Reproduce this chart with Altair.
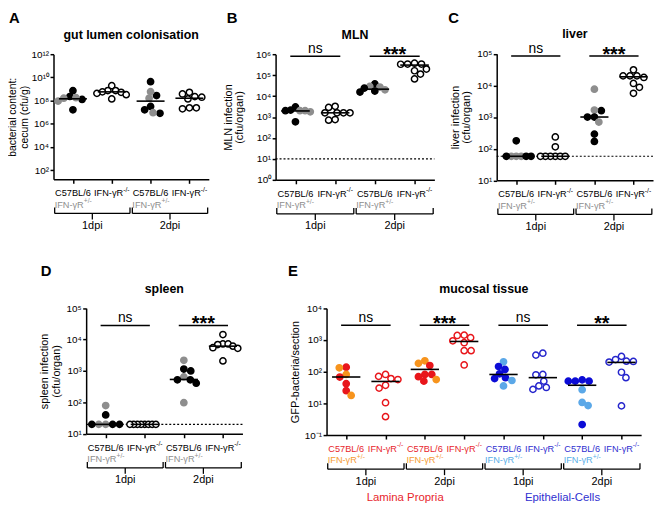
import altair as alt
import pandas as pd

FONT = "Liberation Sans"
W, H = 646, 480

# ---------------- values (log10 units) ----------------
A_VALUES = [
    [8.85, 8.35, 8.10, 7.20, 7.95, 8.20, 8.25],
    [9.28, 8.86, 8.86, 8.71, 8.51, 8.14, 8.75, 8.62],
    [9.63, 8.43, 8.77, 8.20, 7.49, 7.20, 6.90, 6.95],
    [8.57, 8.71, 8.29, 8.34, 8.14, 7.37, 7.29, 7.37],
]
A_STRAINS = [
    ["wt", "wt", "wt", "wt", "het", "het", "het"],
    ["ko"] * 8,
    ["wt", "wt", "het", "het", "wt", "wt", "wt", "het"],
    ["ko"] * 8,
]
A_MEDIANS = [8.15, 8.75, 7.95, 8.20]

B_VALUES = [
    [3.48, 3.30, 3.30, 3.33, 2.77, 3.25, 3.30],
    [3.46, 3.51, 3.20, 3.20, 3.20, 3.20, 2.85, 2.88],
    [4.58, 4.46, 4.43, 4.24, 4.19, 4.30, 4.38],
    [5.57, 5.53, 5.53, 5.52, 5.29, 5.21, 5.05, 4.82],
]
B_STRAINS = [
    ["wt", "het", "het", "wt", "wt", "het", "wt"],
    ["ko"] * 8,
    ["wt", "het", "het", "wt", "wt", "het", "wt"],
    ["ko"] * 8,
]
B_MEDIANS = [3.29, 3.20, 4.33, 5.48]
B_LIMIT = 1.0
B_SIG = [(0, 1, "ns", 5.9), (2, 3, "***", 5.9)]

C_VALUES = [
    [2.25, 1.76, 1.76, 1.76, 1.76, 1.76, 1.76],
    [2.37, 2.06, 1.76, 1.76, 1.76, 1.76, 1.76, 1.76],
    [3.88, 3.20, 3.22, 3.00, 3.00, 2.84, 2.46, 2.23],
    [4.49, 4.30, 4.30, 4.30, 4.25, 4.06, 3.94, 3.75],
]
C_STRAINS = [
    ["wt", "het", "het", "het", "wt", "wt", "wt"],
    ["ko"] * 8,
    ["het", "wt", "het", "wt", "wt", "het", "wt", "wt"],
    ["ko"] * 8,
]
C_MEDIANS = [1.76, 1.76, 3.00, 4.27]
C_LIMIT = 1.76
C_SIG = [(0, 1, "ns", 4.93), (2, 3, "***", 4.93)]

D_VALUES = [
    [1.90, 1.60, 1.30, 1.30, 1.30, 1.30, 1.30],
    [1.30] * 8,
    [3.34, 3.06, 3.00, 2.81, 2.72, 2.72, 2.61, 1.99],
    [4.16, 3.86, 3.86, 3.84, 3.79, 3.74, 3.72, 3.32],
]
D_STRAINS = [
    ["het", "wt", "het", "het", "wt", "wt", "wt"],
    ["ko"] * 8,
    ["het", "wt", "wt", "het", "wt", "wt", "wt", "het"],
    ["ko"] * 8,
]
D_MEDIANS = [1.30, 1.30, 2.73, 3.79]
D_LIMIT = 1.30
D_SIG = [(0, 1, "ns", 4.45), (2, 3, "***", 4.45)]

E_VALUES = [
    [2.14, 2.12, 1.91, 1.83, 1.62, 1.40, 1.25],
    [1.85, 1.75, 1.78, 1.91, 1.57, 1.48, 1.02, 0.58],
    [2.34, 2.26, 2.19, 1.91, 1.84, 1.91, 1.70, 1.75],
    [3.15, 3.14, 3.07, 2.97, 2.91, 2.66, 2.66, 2.21],
    [2.31, 2.16, 2.07, 1.78, 1.81, 1.72, 1.55, 1.93],
    [2.52, 2.58, 1.90, 1.91, 1.70, 1.55, 1.44, 1.50],
    [1.70, 1.70, 1.70, 1.74, 1.43, 1.03, 0.93, 0.33],
    [2.48, 2.38, 2.32, 2.33, 2.30, 1.98, 1.81, 0.92],
]
E_STRAINS = [
    ["wt", "het", "het", "wt", "wt", "wt", "het"],
    ["ko"] * 8,
    ["het", "het", "wt", "wt", "wt", "wt", "wt", "het"],
    ["ko"] * 8,
    ["het", "wt", "wt", "wt", "wt", "het", "het", "wt"],
    ["ko"] * 8,
    ["wt", "wt", "wt", "wt", "het", "het", "het", "wt"],
    ["ko"] * 8,
]
E_MEDIANS = [1.83, 1.69, 2.07, 2.95, 1.91, 1.81, 1.57, 2.29]
E_SIG = [(0, 1, "ns", 3.46), (2, 3, "***", 3.46), (4, 5, "ns", 3.46), (6, 7, "**", 3.46)]

GROUP_STRAINS = ["wt", "ko"]
STRAIN_NAMES = {"wt": ("C57BL/6", ""), "ko": ("IFN-γR", "-/-"), "het": ("IFN-γR", "+/-")}
TIMEPOINTS = ["1dpi", "2dpi"]
E_TISSUES = ["Lamina Propria", "Epithelial-Cells"]

# ---------------- styles ----------------
BW = {"wt": ("#000000", "#000000"), "het": ("#8e8e8e", "#8e8e8e"), "ko": ("#ffffff", "#000000")}
LP = {"wt": ("#e8161b", "#e8161b"), "het": ("#f7941d", "#f7941d"), "ko": ("#ffffff", "#e8161b")}
EC = {"wt": ("#0c0cd6", "#0c0cd6"), "het": ("#5ba8e8", "#5ba8e8"), "ko": ("#ffffff", "#2525cc")}
GRAY_TXT = "#8e8e8e"
LAB_FS = 9.3
SUP_FS = 6.8

SUP = str.maketrans("0123456789-+", "⁰¹²³⁴⁵⁶⁷⁸⁹⁻⁺")


def pow_label(e):
    return "10" + str(e).translate(SUP)


def swarm(vals, pxdec, d=6.8, maxspread=15.0):
    ys = [-v * pxdec for v in vals]
    order = sorted(range(len(vals)), key=lambda i: ys[i])
    placed, dx = [], [0.0] * len(vals)
    for n_, i in enumerate(order):
        y = ys[i]
        k = 0
        while True:
            if k == 0:
                cands = [0.0]
            elif n_ % 2:
                cands = [-k * 0.5, k * 0.5]
            else:
                cands = [k * 0.5, -k * 0.5]
            ok = [c for c in cands if all((c - px) ** 2 + (y - py) ** 2 >= d * d for px, py in placed)]
            if ok:
                dx[i] = ok[0]
                placed.append((ok[0], y))
                break
            k += 1
    m = max(abs(v) for v in dx)
    if m > maxspread:
        dx = [v * maxspread / m for v in dx]
    return dx


def panel(P):
    values = P["values"]
    n = len(values)
    x0, x1, yt, yb = P["box"]
    lo, hi = P["ydom"]
    band = (x1 - x0) / n
    pxdec = (yb - yt) / (hi - lo)
    labels = [pow_label(e) for e in range(0, hi + 1)]
    if P.get("zero_label"):
        labels[0] = P["zero_label"]
    label_expr = "[" + ",".join("'%s'" % s for s in labels) + "][round(log(datum.value)/LN10)]"

    xs = alt.Scale(domain=[0, n], range=[x0, x1], nice=False, zero=False)
    ys = alt.Scale(type="log", domain=[10 ** lo, 10 ** hi], range=[yb, yt], nice=False)
    xaxis = alt.Axis(orient="bottom", offset=yb - H, values=[k + 0.5 for k in range(n)],
                     labels=False, title=None, grid=False, domainColor="black", domainWidth=1.5,
                     tickColor="black", tickWidth=1.5, tickSize=4)
    yaxis = alt.Axis(orient="left", offset=-x0, values=[10 ** e for e in P["ticks"]],
                     labelExpr=label_expr, title=P["ytitle"], grid=False, domainColor="black",
                     domainWidth=1.5, tickColor="black", tickWidth=1.5, tickSize=3.5,
                     labelFontSize=10, labelColor="black", labelPadding=1.5,
                     titleFontSize=P.get("tsize", 11), titleFontWeight="normal", titleColor="black",
                     titlePadding=P["tpad"], titleLineHeight=11.5)

    def X(f):
        return alt.X(f, type="quantitative", scale=xs, axis=xaxis)

    def Y(f):
        return alt.Y(f, type="quantitative", scale=ys, axis=yaxis)

    pals = P["pals"]
    rows = []
    for g, (vals, strains) in enumerate(zip(values, P["strains"])):
        dxs = swarm(vals, pxdec)
        for v, s, dx in zip(vals, strains, dxs):
            fill, stroke = pals[g][s]
            rows.append(dict(x=g + 0.5 + dx / band, y=10 ** v, fill=fill, stroke=stroke))
    pts = alt.Chart(pd.DataFrame(rows)).mark_point(
        shape="circle", filled=True, size=40, strokeWidth=1.5, opacity=1
    ).encode(x=X("x"), y=Y("y"),
             fill=alt.Fill("fill:N", scale=None), stroke=alt.Stroke("stroke:N", scale=None))

    med = pd.DataFrame([dict(x=g + 0.5 - 0.36, x2=g + 0.5 + 0.36, y=10 ** m)
                        for g, m in enumerate(P["medians"])])
    meds = alt.Chart(med).mark_rule(color="black", strokeWidth=1.6).encode(
        x=X("x"), x2="x2", y=Y("y"))

    layers = [pts, meds]

    if P.get("limit") is not None:
        lim = pd.DataFrame([dict(x=0, x2=n, y=10 ** P["limit"])])
        layers.insert(0, alt.Chart(lim).mark_rule(color="black", strokeWidth=1.2, strokeDash=[2, 2]).encode(
            x=X("x"), x2="x2", y=Y("y")))

    sig = P.get("sig", [])
    if sig:
        sdf = pd.DataFrame([dict(x=a + 0.5 - 0.13, x2=b + 0.5 + 0.13, xm=(a + b) / 2 + 0.5,
                                 y=10 ** yv, text=t) for a, b, t, yv in sig])
        layers.append(alt.Chart(sdf).mark_rule(color="black", strokeWidth=1.5).encode(
            x=X("x"), x2="x2", y=Y("y")))
        layers.append(alt.Chart(sdf[sdf.text == "ns"]).mark_text(
            fontSize=14, baseline="alphabetic", dy=-3, color="black").encode(
            x=X("xm"), y=Y("y"), text="text:N"))
        layers.append(alt.Chart(sdf[sdf.text != "ns"]).mark_text(
            fontSize=20, fontWeight="bold", baseline="alphabetic", dy=5, color="black").encode(
            x=X("xm"), y=Y("y"), text="text:N"))

    # category labels under the x axis
    w_main = 3.166 * LAB_FS
    w_sup = 0.944 * SUP_FS
    dx_ko = (w_main + w_sup) / 2 - w_sup
    lab = []
    for g in range(n):
        s = GROUP_STRAINS[g % 2]
        name, sup = STRAIN_NAMES[s]
        lab.append(dict(x=g + 0.5, xs=g + 0.03, strain=s, name=name, sup=sup,
                        color=P["lab_colors"][g], hname=STRAIN_NAMES["het"][0],
                        hsup=STRAIN_NAMES["het"][1], hcolor=P["het_colors"][g]))
    lab = pd.DataFrame(lab)
    wt = lab[lab.strain == "wt"]
    ko = lab[lab.strain == "ko"]
    ly = yb + 14
    layers.append(alt.Chart(wt).mark_text(fontSize=LAB_FS, align="center", baseline="middle").encode(
        x=X("x"), y=alt.value(ly), text="name:N", color=alt.Color("color:N", scale=None)))
    layers.append(alt.Chart(ko).mark_text(fontSize=LAB_FS, align="right", baseline="middle", dx=dx_ko).encode(
        x=X("x"), y=alt.value(ly), text="name:N", color=alt.Color("color:N", scale=None)))
    layers.append(alt.Chart(ko).mark_text(fontSize=SUP_FS, align="left", baseline="middle", dx=dx_ko).encode(
        x=X("x"), y=alt.value(ly - 3.5), text="sup:N", color=alt.Color("color:N", scale=None)))
    layers.append(alt.Chart(wt).mark_text(fontSize=LAB_FS, align="left", baseline="middle").encode(
        x=X("xs"), y=alt.value(ly + 11.5), text="hname:N", color=alt.Color("hcolor:N", scale=None)))
    layers.append(alt.Chart(wt).mark_text(fontSize=SUP_FS, align="left", baseline="middle", dx=w_main).encode(
        x=X("xs"), y=alt.value(ly + 8), text="hsup:N", color=alt.Color("hcolor:N", scale=None)))

    # brackets for time points
    br = pd.DataFrame([dict(x=2 * k + 0.03, x2=2 * k + 1.97, xm=2 * k + 1.0, text=TIMEPOINTS[k % 2])
                       for k in range(n // 2)])
    ends = pd.DataFrame([dict(x=2 * k + 0.03) for k in range(n // 2)] +
                        [dict(x=2 * k + 1.97) for k in range(n // 2)])
    by = yb + 34.5
    layers.append(alt.Chart(br).mark_rule(color="black", strokeWidth=1.3).encode(
        x=X("x"), x2="x2", y=alt.value(by)))
    layers.append(alt.Chart(ends).mark_rule(color="black", strokeWidth=1.3).encode(
        x=X("x"), y=alt.value(by - 6), y2=alt.value(by)))
    layers.append(alt.Chart(br).mark_rule(color="black", strokeWidth=1.3).encode(
        x=X("xm"), y=alt.value(by), y2=alt.value(by + 6)))
    layers.append(alt.Chart(br).mark_text(fontSize=11, baseline="middle", color="black").encode(
        x=X("xm"), y=alt.value(by + 12.5), text="text:N"))

    if P.get("tissues"):
        tdf = pd.DataFrame([dict(x=4 * k + 2.0, text=t, color=c)
                            for k, (t, c) in enumerate(P["tissues"])])
        layers.append(alt.Chart(tdf).mark_text(fontSize=11.5, baseline="middle").encode(
            x=X("x"), y=alt.value(yb + 64), text="text:N", color=alt.Color("color:N", scale=None)))

    # panel title and letter
    tdf = pd.DataFrame([dict(x=n / 2, text=P["title"], letter=P["letter"])])
    layers.append(alt.Chart(tdf).mark_text(fontSize=12.5, fontWeight="bold", baseline="middle",
                                           color="black").encode(
        x=X("x"), y=alt.value(yt - 19.5), text="text:N"))
    layers.append(alt.Chart(tdf).mark_text(fontSize=15, fontWeight="bold", align="left",
                                           baseline="alphabetic", color="black").encode(
        x=alt.value(P["letter_xy"][0]), y=alt.value(P["letter_xy"][1]), text="letter:N"))

    return alt.layer(*layers)


BW_LAB = dict(lab_colors=["black"] * 4, het_colors=[GRAY_TXT] * 4, pals=[BW] * 4)

PANELS = [
    dict(title="gut lumen colonisation", letter="A", letter_xy=(0, 10.5),
         ytitle=["bacterial content:", "cecum (cfu/g)"], tpad=1, tsize=10.5,
         box=(45, 202, 42, 168.5), ydom=(1.2, 12), ticks=[2, 4, 6, 8, 10, 12],
         values=A_VALUES, strains=A_STRAINS, medians=A_MEDIANS, **BW_LAB),
    dict(title="MLN", letter="B", letter_xy=(220, 10.5),
         ytitle=["MLN infection", "(cfu/organ)"], tpad=11,
         box=(269.5, 430, 42, 169), ydom=(0, 6), ticks=[0, 1, 2, 3, 4, 5, 6],
         values=B_VALUES, strains=B_STRAINS, medians=B_MEDIANS, limit=B_LIMIT, sig=B_SIG, **BW_LAB),
    dict(title="liver", letter="C", letter_xy=(444, 10.5),
         ytitle=["liver infection", "(cfu/organ)"], tpad=5,
         box=(493, 651, 41.5, 169.5), ydom=(1, 5), ticks=[1, 2, 3, 4, 5],
         values=C_VALUES, strains=C_STRAINS, medians=C_MEDIANS, limit=C_LIMIT, sig=C_SIG, **BW_LAB),
    dict(title="spleen", letter="D", letter_xy=(32, 266),
         ytitle=["spleen infection", "(cfu/organ)"], tpad=5,
         box=(78, 236, 298.7, 425.7), ydom=(1, 5), ticks=[1, 2, 3, 4, 5],
         values=D_VALUES, strains=D_STRAINS, medians=D_MEDIANS, limit=D_LIMIT, sig=D_SIG, **BW_LAB),
    dict(title="mucosal tissue", letter="E", letter_xy=(282, 266),
         ytitle="GFP-bacteria/section", tpad=4, zero_label=pow_label(-1),
         box=(321, 639, 298.7, 427), ydom=(0, 4), ticks=[0, 1, 2, 3, 4],
         values=E_VALUES, strains=E_STRAINS, medians=E_MEDIANS, sig=E_SIG,
         lab_colors=["#e8262c"] * 4 + ["#3030d0"] * 4,
         het_colors=["#f59a32", "#f59a32", "#f59a32", "#f59a32", "#58aee8", "#58aee8", "#58aee8", "#58aee8"],
         pals=[LP] * 4 + [EC] * 4,
         tissues=[(E_TISSUES[0], "#e8262c"), (E_TISSUES[1], "#3030d0")]),
]

chart = alt.layer(*[panel(P) for P in PANELS]).resolve_scale(
    x="independent", y="independent"
).properties(width=W, height=H, padding=0).configure(font=FONT).configure_view(stroke=None)

chart.save("out.html", embed_options={"renderer": "svg", "actions": False})
